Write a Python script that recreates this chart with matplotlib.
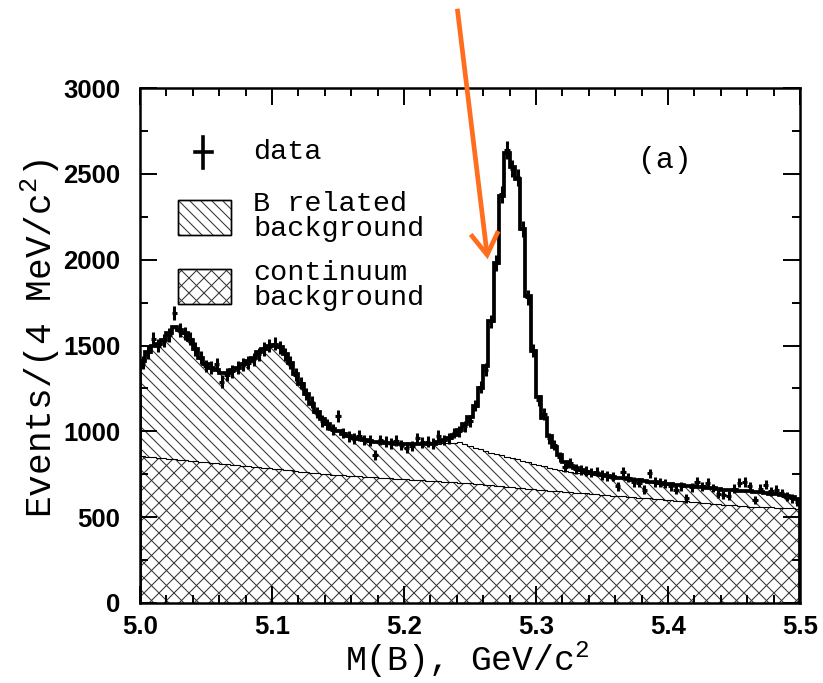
import numpy as np
import matplotlib
matplotlib.use("Agg")
import matplotlib.pyplot as plt
from matplotlib import font_manager as fm
from matplotlib.collections import LineCollection
from matplotlib.patches import Rectangle, FancyArrowPatch
from matplotlib.transforms import IdentityTransform, Affine2D
from matplotlib.ticker import MultipleLocator

# ---------------- data ----------------
mass_lo, mass_hi, n_bins = 5.0, 5.5, 125   # 4 MeV bins

data_counts = [
    1400, 1460, 1540, 1500, 1530, 1560, 1690, 1590, 1570, 1540,
    1480, 1430, 1380, 1370, 1390, 1290, 1330, 1350, 1370, 1390,
    1400, 1420, 1450, 1480, 1500, 1510, 1490, 1450, 1400, 1330,
    1280, 1220, 1170, 1110, 1060, 1040, 1010, 1090, 990, 970,
    960, 975, 950, 945, 860, 950, 940, 930, 945, 920,
    905, 915, 960, 935, 940, 930, 975, 950, 960, 990,
    1000, 1030, 1060, 1150, 1260, 1360, 1640, 1980, 2380, 2640,
    2530, 2480, 2180, 1780, 1470, 1180, 1100, 960, 920, 850,
    790, 815, 780, 775, 770, 760, 765, 745, 740, 735,
    680, 765, 730, 705, 700, 660, 755, 705, 700, 695,
    680, 660, 680, 610, 675, 705, 680, 700, 670, 635,
    630, 625, 665, 700, 705, 680, 600, 665, 690, 650,
    660, 640, 620, 610, 590]

# continuum + B related background (top of the single-hatched area)
total_background = [
    1410, 1460, 1500, 1510, 1530, 1570, 1610, 1590, 1570, 1530,
    1480, 1430, 1390, 1370, 1360, 1340, 1340, 1355, 1370, 1390,
    1410, 1430, 1460, 1480, 1500, 1505, 1490, 1450, 1400, 1335,
    1275, 1215, 1160, 1110, 1070, 1040, 1015, 1000, 985, 970,
    960, 955, 950, 945, 940, 936, 933, 930, 928, 926,
    925, 924, 924, 925, 926, 927, 928, 930, 932, 934,
    935, 925, 915, 905, 895, 885, 876, 868, 860, 852,
    844, 836, 828, 820, 812, 804, 796, 788, 781, 775,
    770, 765, 760, 756, 752, 749, 746, 743, 739, 735,
    731, 727, 723, 719, 715, 711, 707, 703, 699, 695,
    691, 688, 685, 682, 679, 676, 673, 670, 667, 664,
    661, 658, 656, 654, 652, 650, 647, 644, 641, 637,
    633, 628, 622, 615, 607]

continuum = [
    855, 852, 849, 846, 843, 840, 837, 834, 831, 828,
    825, 823, 820, 817, 814, 811, 808, 805, 802, 799,
    796, 793, 790, 787, 784, 781, 778, 775, 772, 769,
    766, 763, 760, 757, 754, 751, 748, 746, 744, 742,
    740, 738, 736, 734, 732, 730, 728, 726, 724, 722,
    720, 718, 716, 714, 712, 710, 708, 706, 704, 702,
    701, 700, 697, 694, 691, 688, 685, 682, 679, 677,
    674, 671, 668, 666, 663, 660, 658, 655, 653, 650,
    648, 646, 643, 641, 638, 636, 634, 631, 629, 626,
    624, 622, 619, 617, 614, 612, 610, 607, 605, 602,
    600, 597, 594, 592, 589, 586, 584, 581, 578, 576,
    573, 570, 568, 565, 564, 562, 561, 560, 558, 557,
    556, 554, 553, 551, 550]

# signal component of the fit (zero outside the peak)
signal = ([0] * 56 +
          [7, 20, 30, 46, 70, 115, 170, 245, 355, 495, 764, 1112, 1510, 1768,
           1696, 1634, 1352, 970, 658, 396, 284, 187, 129, 85, 50, 35, 25, 16,
           10, 6, 4] +
          [0] * 38)

x_ticks = [5.0, 5.1, 5.2, 5.3, 5.4, 5.5]
x_tick_labels = ["5.0", "5.1", "5.2", "5.3", "5.4", "5.5"]
y_ticks = [0, 500, 1000, 1500, 2000, 2500, 3000]
y_tick_labels = ["0", "500", "1000", "1500", "2000", "2500", "3000"]

# ---------------- fonts ----------------
names = {f.name for f in fm.fontManager.ttflist}
if "Liberation Sans Narrow" in names:
    tick_family, tick_size = "Liberation Sans Narrow", 22
else:
    tick_family, tick_size = "Liberation Sans", 18.5
mono = "Liberation Mono"
plt.rcParams["mathtext.fontset"] = "custom"
plt.rcParams["mathtext.rm"] = mono
plt.rcParams["mathtext.it"] = mono

W, H = 823, 683
fig = plt.figure(figsize=(W / 100, H / 100), dpi=100)
ax = fig.add_axes([140 / W, 1 - 603 / H, 660 / W, 515 / H])

# transform: image pixel coords (y down) -> display
pix = Affine2D().scale(1, -1).translate(0, H)

edges = np.linspace(mass_lo, mass_hi, n_bins + 1)
centers = 0.5 * (edges[:-1] + edges[1:])
data = np.array(data_counts, float)
cont = np.array(continuum, float)
tot = np.array(total_background, float)
fit = tot + np.array(signal, float)

def ext(a):
    return np.r_[a, a[-1]]

hatch_col = "#333333"
hatch_lw = 0.75

def hatch_lines(spacing, dirs):
    segs = []
    L = W + H
    for d in dirs:
        if d == "\\":
            for k in np.arange(-L, 2 * L, spacing):
                segs.append([(k - L, L), (k + L, -L)])   # slope -1 in display
        else:
            for k in np.arange(-L, 2 * L, spacing):
                segs.append([(k - L, -L), (k + L, L)])   # slope +1
    return segs

# continuum region (cross hatch)
p1 = ax.fill_between(edges, ext(cont), 0, step="post", facecolor="white",
                     edgecolor="none", linewidth=0, zorder=1)
lc1 = LineCollection(hatch_lines(15, ["\\", "/"]), colors=hatch_col,
                     linewidths=hatch_lw, transform=IdentityTransform(), zorder=1.5)
ax.add_collection(lc1, autolim=False)
lc1.set_clip_path(p1.get_paths()[0], ax.transData)

# B related region (single hatch)
p2 = ax.fill_between(edges, ext(tot), ext(cont), step="post", facecolor="white",
                     edgecolor="none", linewidth=0, zorder=1)
lc2 = LineCollection(hatch_lines(11, ["\\"]), colors=hatch_col,
                     linewidths=hatch_lw, transform=IdentityTransform(), zorder=1.5)
ax.add_collection(lc2, autolim=False)
lc2.set_clip_path(p2.get_paths()[0], ax.transData)

ax.stairs(cont, edges, color="black", lw=0.8, zorder=2)
ax.stairs(tot, edges, color="black", lw=0.8, zorder=2)
ax.stairs(fit, edges, color="black", lw=2.7, zorder=3)
ax.errorbar(centers, data, yerr=np.sqrt(data), xerr=(mass_hi - mass_lo) / n_bins / 2,
            fmt="none", ecolor="black", elinewidth=2.2, capsize=0, zorder=4)

ax.set_xlim(mass_lo, mass_hi)
ax.set_ylim(0, 3000)
ax.set_xticks(x_ticks)
ax.set_xticklabels(x_tick_labels)
ax.set_yticks(y_ticks)
ax.set_yticklabels(y_tick_labels)
ax.xaxis.set_minor_locator(MultipleLocator(0.02))
ax.yaxis.set_minor_locator(MultipleLocator(250))
ax.tick_params(which="both", direction="in", top=True, right=True, width=1.4)
ax.tick_params(which="major", length=12)
ax.tick_params(which="minor", length=6)
ax.tick_params(axis="x", pad=9)
ax.tick_params(axis="y", pad=14)
for lab in ax.get_xticklabels() + ax.get_yticklabels():
    lab.set_fontfamily(tick_family)
    lab.set_fontweight("bold")
    lab.set_fontsize(tick_size)
for s in ax.spines.values():
    s.set_linewidth(1.8)

# axis labels
fig.text(467 / W, 1 - 671 / H, r"M(B), GeV/c$^{2}$", ha="center", va="baseline",
         family=mono, fontsize=25)
fig.text(40 / W, 1 - 338 / H, r"Events/(4 MeV/c$^{2}$)", ha="center", va="center",
         rotation=90, family=mono, fontsize=26)

# panel tag
fig.text(665 / W, 1 - 160 / H, "(a)", ha="center", va="center", family=mono,
         fontsize=21.5)

# ---------------- legend (manual) ----------------
leg_size = 20.5
fig.add_artist(plt.Line2D([203, 203], [137, 168], color="black", lw=2.6, transform=pix))
fig.add_artist(plt.Line2D([195, 212], [152, 152], color="black", lw=2.6, transform=pix))
fig.text(253 / W, 1 - 152 / H, "data", va="center", ha="left", family=mono, fontsize=leg_size)

for (y0, y1), dirs, sp, lines in [((200, 235), ["\\"], 11, ("B related", "background")),
                                   ((269, 304), ["\\", "/"], 15, ("continuum", "background"))]:
    r = Rectangle((178, y0), 53, y1 - y0, transform=pix, facecolor="white",
                  edgecolor="black", lw=1.0, zorder=5)
    fig.add_artist(r)
    lc = LineCollection(hatch_lines(sp, dirs), colors=hatch_col, linewidths=hatch_lw,
                        transform=IdentityTransform(), zorder=5.5)
    fig.add_artist(lc)
    lc.set_clip_path(r)
    r2 = Rectangle((178, y0), 53, y1 - y0, transform=pix, facecolor="none",
                   edgecolor="black", lw=1.0, zorder=6)
    fig.add_artist(r2)
    fig.text(253 / W, 1 - (y0 + 4) / H, lines[0], va="center", ha="left",
             family=mono, fontsize=leg_size)
    fig.text(253 / W, 1 - (y0 + 29) / H, lines[1], va="center", ha="left",
             family=mono, fontsize=leg_size)

# ---------------- orange annotation arrow ----------------
arrow = FancyArrowPatch((457, 6), (488, 262), transform=pix,
                        arrowstyle="->,head_length=1.6,head_width=1.0",
                        mutation_scale=10, color="#FF6E1F", lw=3.4,
                        capstyle="butt", joinstyle="miter")
fig.add_artist(arrow)

fig.savefig("out.png", dpi=100)
